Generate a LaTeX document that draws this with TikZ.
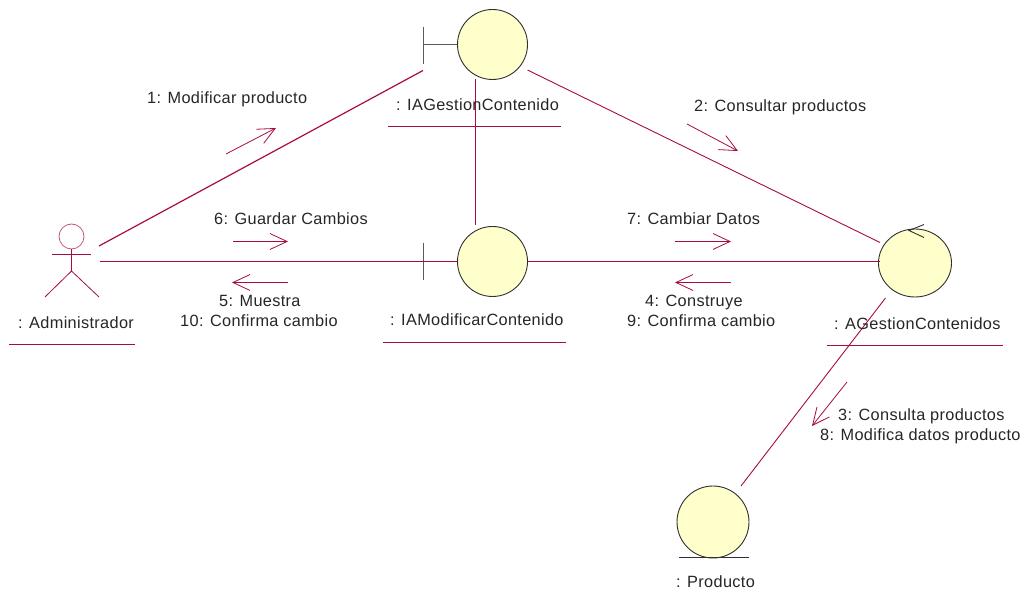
\documentclass[tikz,border=0pt]{standalone}
\usepackage{fontspec}
\setmainfont[LetterSpace=2.1]{Liberation Sans}
\definecolor{umlred}{HTML}{A80B43}
\definecolor{umlfill}{HTML}{FFFFCC}
\definecolor{umlline}{HTML}{303030}
\usetikzlibrary{arrows.meta,shapes.geometric}
\tikzset{
  x=1pt,y=-1pt,
  lbl/.style={inner sep=0pt,font=\fontsize{16.3}{19}\selectfont,text=black!85,anchor=base west},
  obj/.style={circle,draw=umlline,fill=umlfill,line width=.9pt,minimum size=70pt,inner sep=0pt},
  link/.style={draw=umlred,line width=.9pt},
  msg/.style={draw=umlred,line width=.8pt,-{Straight Barb[length=17pt,width=15pt,angle'=50,line width=.8pt]}},
  under/.style={draw=umlred,line width=.9pt},
  glyph/.style={draw=umlline,line width=.9pt},
  actor/.style={draw=umlred,line width=.8pt}
}
\begin{document}
\begin{tikzpicture}
\useasboundingbox (0,0) rectangle (1029,601);
% objects
\node[obj] (gestion) at (492.5,44.5) {};
\node[obj] (modificar) at (492.5,261.5) {};
\node[draw=umlline,fill=umlfill,line width=.9pt,inner sep=0pt,ellipse,minimum width=73pt,minimum height=68pt] (control) at (915,263) {};
\node[obj,minimum size=72pt] (producto) at (713,522) {};
% boundary glyphs
\coordinate (gbar) at (423.5,44.5);
\coordinate (mbar) at (423.5,261.5);
\draw[glyph,draw=gray!70!black] (423.5,27) -- (423.5,64);
\draw[glyph,draw=gray!70!black] (gbar) -- (gestion.west);
\draw[glyph,draw=gray!70!black] (423.5,243) -- (423.5,280);
\draw[glyph,draw=umlred] (mbar) -- (modificar.west);
% control glyph
\draw[glyph] (924,224.5) -- (909,230.5) -- (924,237.5);
% entity glyph
\draw[glyph] (679,557.5) -- (749,557.5);
% actor
\node[circle,draw=umlred!70,line width=.8pt,minimum size=25pt,inner sep=0pt] (actor) at (71.5,236.5) {};
\draw[actor] (actor.south) -- (71.5,271) coordinate (hip);
\draw[actor] (52,254.5) -- (91,254.5);
\draw[actor] (45,297) -- (hip) -- (99,297);
% connector ends
\coordinate (a1) at (99,246);
\coordinate (a2) at (100,261.5);
\coordinate (g1) at (423,70.5);
\coordinate (g2) at (475.5,79.5);
\coordinate (g3) at (527.5,70);
\coordinate (m1) at (475.5,225);
\coordinate (c1) at (880,242.5);
\coordinate (c2) at (880,261.5);
\coordinate (c3) at (885.5,298);
\coordinate (p1) at (741,486);
% connectors
\draw[link,line width=1.2pt] (a1) -- (g1);
\draw[link] (a2) -- (mbar);
\draw[link] (g2) -- (m1);
\draw[link] (g3) -- (c1);
\draw[link] (modificar.east) -- (c2);
\draw[link] (c3) -- (p1);
% message arrows
\coordinate (s1) at (226,154); \coordinate (e1) at (276,128);
\coordinate (s2) at (687,124); \coordinate (e2) at (738,151);
\coordinate (s3) at (233,241.5); \coordinate (e3) at (288,241.5);
\coordinate (s4) at (288,282.5); \coordinate (e4) at (232,282.5);
\coordinate (s5) at (675,241.5); \coordinate (e5) at (731,241.5);
\coordinate (s6) at (731,282.5); \coordinate (e6) at (675,282.5);
\coordinate (s7) at (847,382); \coordinate (e7) at (812,426);
\draw[msg] (s1) -- (e1);
\draw[msg] (s2) -- (e2);
\draw[msg] (s3) -- (e3);
\draw[msg] (s4) -- (e4);
\draw[msg] (s5) -- (e5);
\draw[msg] (s6) -- (e6);
\draw[msg] (s7) -- (e7);
% underlines
\coordinate (u1a) at (9,344.5); \coordinate (u1b) at (135,344.5);
\coordinate (u2a) at (388,126.5); \coordinate (u2b) at (561,126.5);
\coordinate (u3a) at (383,342.5); \coordinate (u3b) at (566,342.5);
\coordinate (u4a) at (827,345.5); \coordinate (u4b) at (1003,345.5);
\draw[under] (u1a) -- (u1b);
\draw[under] (u2a) -- (u2b);
\draw[under] (u3a) -- (u3b);
\draw[under] (u4a) -- (u4b);
% object labels
\node[lbl] (ladmin) at (18,328.5) {: Administrador};
\node[lbl] (lgest) at (396,110.5) {: IAGestionContenido};
\node[lbl] (lmod) at (390,325.5) {: IAModificarContenido};
\node[lbl] (lcont) at (834,329.5) {: AGestionContenidos};
\node[lbl] (lprod) at (676,587) {: Producto};
% message labels
\node[lbl] (t1) at (147,103.5) {1: Modificar producto};
\node[lbl] (t2) at (694,112) {2: Consultar productos};
\node[lbl] (t6) at (214,224.5) {6: Guardar Cambios};
\node[lbl] (t7) at (627,224.5) {7: Cambiar Datos};
\node[lbl] (t5) at (219,307) {5: Muestra};
\node[lbl] (t10) at (180,327) {10: Confirma cambio};
\node[lbl] (t4) at (645,307) {4: Construye};
\node[lbl] (t9) at (627,327) {9: Confirma cambio};
\node[lbl] (t3) at (838,421) {3: Consulta productos};
\node[lbl] (t8) at (820,441) {8: Modifica datos producto};
\end{tikzpicture}
\end{document}
